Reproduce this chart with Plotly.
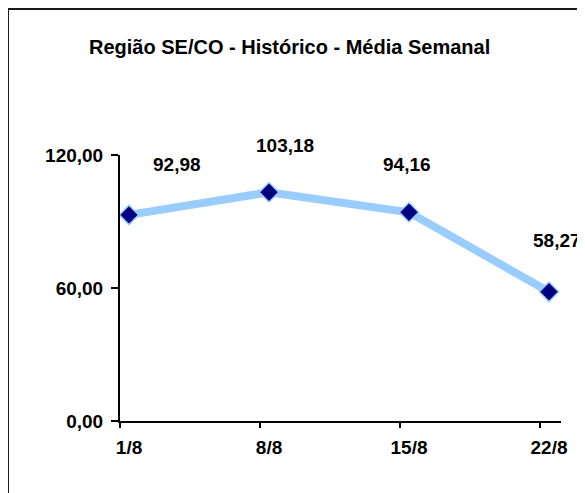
import plotly.graph_objects as go

# ---- data ----
categories = ["1/8", "8/8", "15/8", "22/8"]
values = [92.98, 103.18, 94.16, 58.27]
value_labels = ["92,98", "103,18", "94,16", "58,27"]
y_tick_values = [0, 60, 120]
y_tick_labels = ["0,00", "60,00", "120,00"]
title_text = "Região SE/CO - Histórico - Média Semanal"

# ---- layout constants (pixels, figure coords; page adds 8px body margin) ----
W, H = 577, 485
L, R, T, B = 112, 24, 147, 72
PW, PH = W - L - R, H - T - B
label_offsets = [(48, 50), (16, 47), (-2, 48), (8, 51)]

FONT = "Arial, 'Liberation Sans', sans-serif"

idx = list(range(len(categories)))

fig = go.Figure()
fig.add_trace(go.Scatter(
    x=idx, y=values, mode="lines+markers",
    line=dict(color="#99CCFF", width=8),
    marker=dict(symbol="diamond", size=15, color="#000080",
                line=dict(color="#99CCFF", width=1.5)),
    hoverinfo="skip", showlegend=False, cliponaxis=False,
))

annotations = []
for i, (v, t) in enumerate(zip(values, value_labels)):
    dx, dy = label_offsets[i]
    annotations.append(dict(
        x=i, y=v, xref="x", yref="y", text=t, showarrow=False,
        xshift=dx, yshift=dy, xanchor="center", yanchor="middle",
        font=dict(family=FONT, size=19, color="black", weight="bold"),
    ))

def px_x(p):
    return (p - L) / PW

def px_y(p):
    return (H - B - p) / PH

annotations.append(dict(
    x=px_x(281), y=px_y(39), xref="paper", yref="paper", text=title_text,
    showarrow=False, xanchor="center", yanchor="middle",
    font=dict(family=FONT, size=20, color="black", weight="bold"),
))

shapes = [
    dict(type="rect", xref="paper", yref="paper",
         x0=px_x(0), x1=px_x(W + 20), y0=px_y(H + 20), y1=px_y(1),
         line=dict(color="#1a1a1a", width=2), fillcolor="rgba(0,0,0,0)", layer="below"),
]

off = 0.064
fig.update_layout(
    width=W, height=H,
    margin=dict(l=L, r=R, t=T, b=B),
    paper_bgcolor="white", plot_bgcolor="white",
    showlegend=False,
    annotations=annotations, shapes=shapes,
    xaxis=dict(
        range=[-9 / 140, 3 + 12 / 140],
        tickvals=[i - off for i in idx], ticktext=categories,
        ticks="outside", ticklen=5, tickwidth=2, tickcolor="black",
        ticklabelshift=9, ticklabelstandoff=3,
        showline=True, linecolor="black", linewidth=2,
        showgrid=False, zeroline=False, fixedrange=True,
        tickfont=dict(family=FONT, size=19, color="black", weight="bold"),
    ),
    yaxis=dict(
        range=[0, 120],
        tickvals=y_tick_values, ticktext=y_tick_labels,
        ticks="outside", ticklen=7, tickwidth=2, tickcolor="black",
        ticklabelstandoff=4,
        showline=True, linecolor="black", linewidth=2,
        showgrid=False, zeroline=False, fixedrange=True,
        tickfont=dict(family=FONT, size=19, color="black", weight="bold"),
    ),
)

fig.write_html("out.html")
